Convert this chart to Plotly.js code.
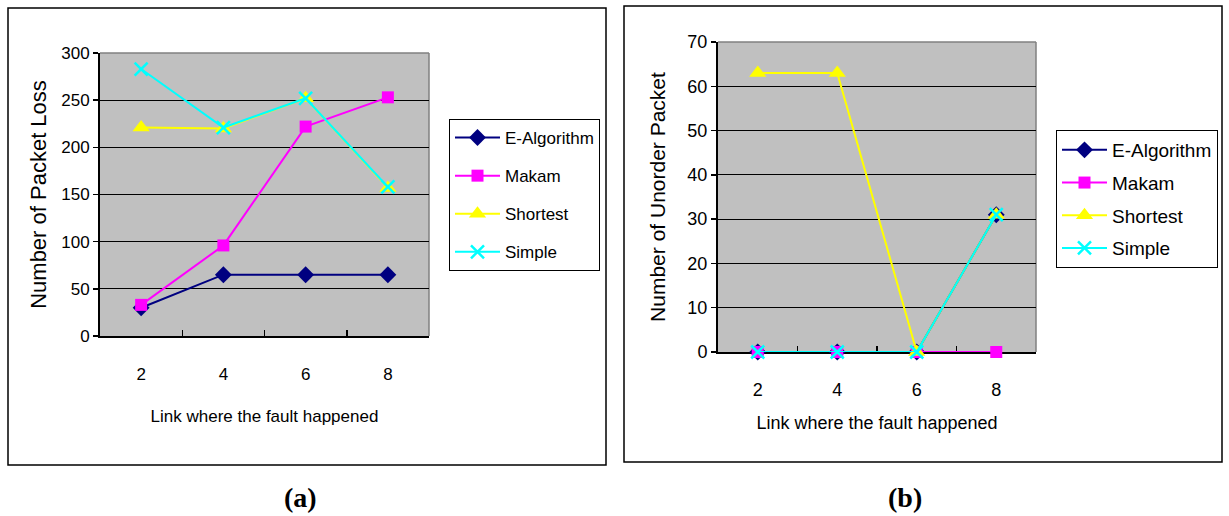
<!DOCTYPE html>
<html><head><meta charset="utf-8">
<script src="https://cdn.plot.ly/plotly-3.0.1.min.js"></script>
<style>html,body{margin:0;padding:0;background:#fff;}#chart{width:1229px;height:516px;}</style>
</head><body><div id="chart"></div>
<script>
const categories = ['2', '4', '6', '8'];
const seriesNames = ['E-Algorithm', 'Makam', 'Shortest', 'Simple'];
// (a) Number of Packet Loss
const lossEAlgorithm = [30, 65, 65, 65];
const lossMakam = [33, 96, 222, 253];
const lossShortest = [221, 220, 252, 157];
const lossSimple = [283, 221, 252, 158];
// (b) Number of Unorder Packet
const unorderEAlgorithm = [0, 0, 0, 31];
const unorderMakam = [0, 0, 0, 0];
const unorderShortest = [63, 63, 0, 31];
const unorderSimple = [0, 0, 0, 31];

const W = 1229, H = 516;
const px = v => v / W, py = v => 1 - v / H;
const SANS = 'Arial, "Liberation Sans", sans-serif';
const SERIF = '"Liberation Serif", "Times New Roman", serif';

const styles = [
  {color: '#000080', symbol: 'diamond', size: 13},
  {color: '#FF00FF', symbol: 'square', size: 12},
  {color: '#FFFF00', symbol: 'triangle-up', size: 15},
  {color: '#00FFFF', symbol: 'x-thin', size: 13}
];
function mk(vals, i, xa, ya, leg, grp) {
  const s = styles[i];
  return {
    x: categories, y: vals, type: 'scatter', mode: 'lines+markers', cliponaxis: false,
    name: seriesNames[i], xaxis: xa, yaxis: ya, legend: leg, legendgroup: grp + i,
    line: {color: s.color, width: 2},
    marker: {symbol: s.symbol, size: s.size, color: s.color, line: {color: s.color, width: s.symbol === 'x-thin' ? 2.5 : 0}}
  };
}
const data = [
  mk(lossEAlgorithm, 0, 'x', 'y', 'legend', 'a'),
  mk(lossMakam, 1, 'x', 'y', 'legend', 'a'),
  mk(lossShortest, 2, 'x', 'y', 'legend', 'a'),
  mk(lossSimple, 3, 'x', 'y', 'legend', 'a'),
  mk(unorderEAlgorithm, 0, 'x2', 'y2', 'legend2', 'b'),
  mk(unorderMakam, 1, 'x2', 'y2', 'legend2', 'b'),
  mk(unorderShortest, 2, 'x2', 'y2', 'legend2', 'b'),
  mk(unorderSimple, 3, 'x2', 'y2', 'legend2', 'b')
];

function xax(domain, anchor, tickfont, titlefont, standoff, tstand) {
  return {
    domain: domain, anchor: anchor, type: 'category', range: [-0.5, 3.5], layer: 'below traces',
    showgrid: false, zeroline: false, showline: true, linecolor: '#000', linewidth: 2,
    ticks: 'inside', tickson: 'boundaries', ticklen: 6, tickcolor: '#000', tickwidth: 1.5,
    tickfont: tickfont, ticklabelstandoff: tstand,
    title: {text: 'Link where the fault happened', font: titlefont, standoff: standoff},
    fixedrange: true
  };
}
function yax(domain, anchor, range, dtick, title, tickfont, titlefont, standoff) {
  return {
    domain: domain, anchor: anchor, range: range, dtick: dtick, layer: 'below traces',
    showgrid: true, gridcolor: '#000', gridwidth: 1, zeroline: false,
    showline: true, linecolor: '#000', linewidth: 2,
    ticks: 'outside', ticklen: 5, tickcolor: '#000', tickwidth: 1.5,
    tickfont: tickfont, title: {text: title, font: titlefont, standoff: standoff}, fixedrange: true
  };
}
const tickA = {family: SANS, size: 17, color: '#000'};
const xTitleA = {family: SANS, size: 17, color: '#000'};
const yTitleA = {family: SANS, size: 22, color: '#000'};
const tickB = {family: SANS, size: 18, color: '#000'};
const xTitleB = {family: SANS, size: 18, color: '#000'};
const yTitleB = {family: SANS, size: 21, color: '#000'};

const layout = {
  width: W, height: H, margin: {l: 0, r: 0, t: 0, b: 0},
  paper_bgcolor: '#fff', plot_bgcolor: '#C0C0C0', showlegend: true,
  xaxis: xax([px(100), px(429)], 'y', tickA, xTitleA, 27, 22),
  yaxis: yax([py(336), py(53)], 'x', [0, 300], 50, 'Number of Packet Loss', tickA, yTitleA, 9),
  xaxis2: xax([px(718), px(1036)], 'y2', tickB, xTitleB, 18, 20),
  yaxis2: yax([py(352), py(42)], 'x2', [0, 70], 10, 'Number of Unorder Packet', tickB, yTitleB, 16),
  legend: {x: px(449), y: py(119), xanchor: 'left', yanchor: 'top', bgcolor: '#fff',
    bordercolor: '#000', borderwidth: 1, font: {family: SANS, size: 17, color: '#000'},
    tracegroupgap: 13, itemwidth: 45, itemclick: false, itemdoubleclick: false},
  legend2: {x: px(1056), y: py(130), xanchor: 'left', yanchor: 'top', bgcolor: '#fff',
    bordercolor: '#000', borderwidth: 1, font: {family: SANS, size: 19, color: '#000'},
    tracegroupgap: 5, itemwidth: 45, itemclick: false, itemdoubleclick: false},
  shapes: [
    {type: 'rect', xref: 'paper', yref: 'paper', x0: px(8), x1: px(606), y0: py(465), y1: py(8), line: {color: '#000', width: 1.5}, layer: 'below'},
    {type: 'rect', xref: 'paper', yref: 'paper', x0: px(624), x1: px(1222), y0: py(462), y1: py(6), line: {color: '#000', width: 1.5}, layer: 'below'},
    {type: 'line', xref: 'x domain', yref: 'y domain', x0: 0, x1: 1, y0: 1, y1: 1, line: {color: '#808080', width: 1.5}, layer: 'below'},
    {type: 'line', xref: 'x domain', yref: 'y domain', x0: 1, x1: 1, y0: 0, y1: 1, line: {color: '#808080', width: 1.5}, layer: 'below'},
    {type: 'line', xref: 'x2 domain', yref: 'y2 domain', x0: 0, x1: 1, y0: 1, y1: 1, line: {color: '#808080', width: 1.5}, layer: 'below'},
    {type: 'line', xref: 'x2 domain', yref: 'y2 domain', x0: 1, x1: 1, y0: 0, y1: 1, line: {color: '#808080', width: 1.5}, layer: 'below'}
  ],
  annotations: [
    {text: '<b>(a)</b>', xref: 'paper', yref: 'paper', x: px(300), y: py(497), xanchor: 'center', yanchor: 'middle', showarrow: false,
      font: {family: SERIF, size: 28, color: '#000'}},
    {text: '<b>(b)</b>', xref: 'paper', yref: 'paper', x: px(905), y: py(497), xanchor: 'center', yanchor: 'middle', showarrow: false,
      font: {family: SERIF, size: 28, color: '#000'}}
  ]
};
Plotly.newPlot('chart', data, layout, {displayModeBar: false, staticPlot: true});
</script></body></html>
